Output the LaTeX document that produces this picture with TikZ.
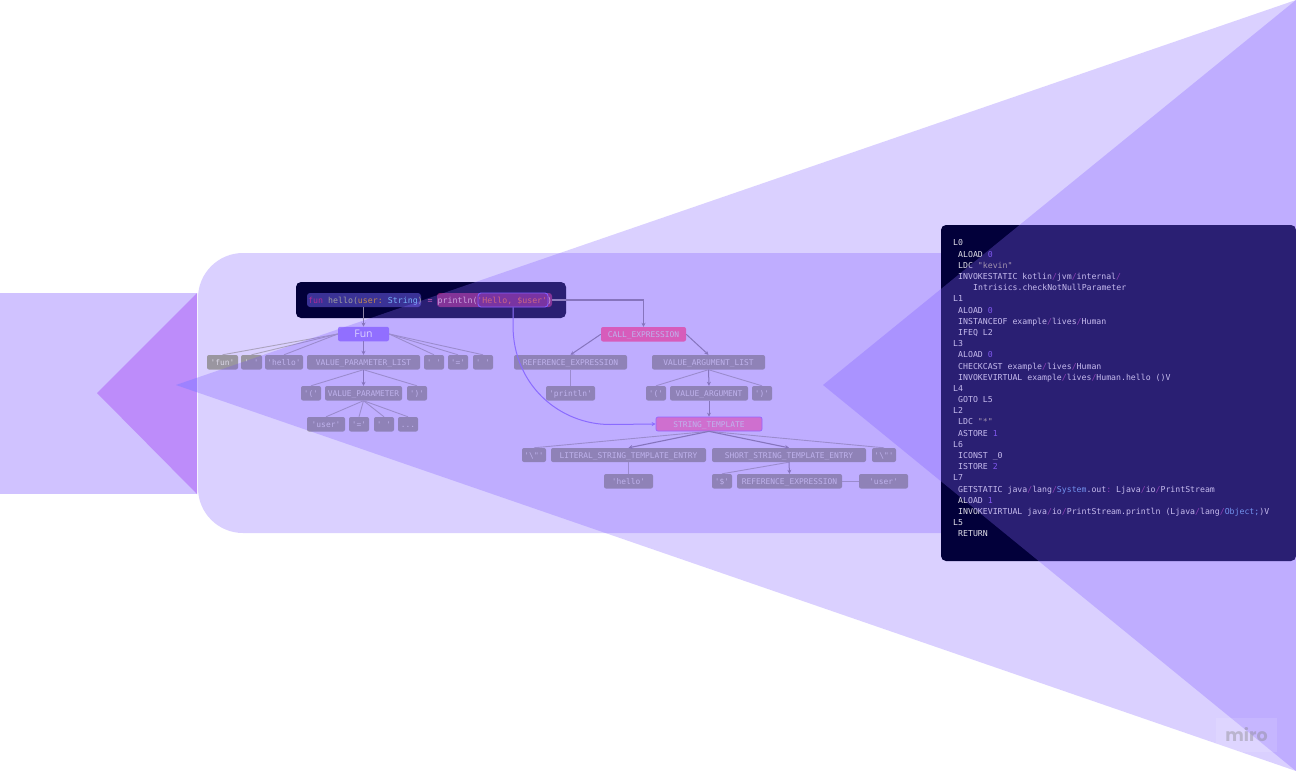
\documentclass[tikz,border=0pt]{standalone}
\usepackage{fontspec}
\newfontfamily\mono{DejaVu Sans Mono}
\newfontfamily\opens{Open Sans}
\newfontfamily\popp{Poppins}
\frenchspacing
\definecolor{violetA}{HTML}{6F47FF}
\definecolor{darkbox}{HTML}{02003A}
\definecolor{tokfill}{HTML}{9A96A0}
\definecolor{tokfg}{HTML}{DAD6E6}
\definecolor{linecol}{HTML}{8E84A8}
\definecolor{linelite}{HTML}{ABA3BE}
\definecolor{codefg}{HTML}{E0DEE8}
\definecolor{cslash}{HTML}{8C2C96}
\definecolor{cnum}{HTML}{7C50E8}
\definecolor{cstr}{HTML}{B0A890}
\definecolor{cblue}{HTML}{6AA4E8}
\definecolor{kwpink}{HTML}{B02C98}
\definecolor{kwgrey}{HTML}{A0A0A0}
\definecolor{kwbrown}{HTML}{C08850}
\definecolor{kwblue}{HTML}{78B0F8}
\definecolor{kwrose}{HTML}{E85CA8}
\definecolor{kwlight}{HTML}{E8C0D8}
\definecolor{kwred}{HTML}{E86450}
\newcommand\ks{\textcolor{cslash}{/}}
\newcommand\kn[1]{\textcolor{cnum}{#1}}
\newcommand\bs{\symbol{92}}
\usetikzlibrary{arrows.meta}
\tikzset{
  tok/.style={rounded corners=2pt,inner sep=0pt,text=tokfg,align=center,
    font=\mono\fontsize{7.9}{9}\selectfont,text height=7.4pt,text depth=1.1pt},
  link/.style={draw=linecol,line width=1pt},
  lite/.style={draw=linelite,line width=.9pt},
  tip/.style={-{Stealth[length=4pt,width=4pt]}},
  codel/.style={anchor=west,inner sep=0pt,text=codefg,
    font=\mono\fontsize{8.2}{10}\selectfont,text height=7.4pt,text depth=1.5pt},
  tri/.style={fill=violetA,fill opacity=.25,draw=none}
}
\newcommand\tk[7][]{\node[tok,fill=tokfill,#1,minimum width={(#4-#3)*1pt},minimum height={(#6-#5)*1pt}]
  (#2) at ({(#3+#4)/2},{(#5+#6)/2}) {#7};}
\begin{document}
\begin{tikzpicture}[x=1pt,y=-1pt]
\useasboundingbox (0,0) rectangle (1296,771);
\fill[white] (0,0) rectangle (1296,771);
% left block
\fill[fill={rgb,255:red,208;green,194;blue,255}] (0,293) rectangle (197,494);
\fill[fill={rgb,255:red,189;green,140;blue,250}] (97,393) -- (197,293) -- (197,494) -- cycle;
\fill[fill={rgb,255:red,174;green,151;blue,255}] (176,385) -- (197,377.8) -- (197,392.2) -- cycle;
% large rounded band
\fill[violetA,fill opacity=.25,rounded corners=45pt] (198,253) rectangle (1100,533);
% source box
\node[rounded corners=5pt,fill=darkbox,minimum width=270pt,minimum height=36pt,inner sep=0pt] (srcbox) at (431,300) {};
\node[rounded corners=3pt,fill={rgb,255:red,58;green,50;blue,150},minimum width=114pt,minimum height=14pt,inner sep=0pt] (hla) at (364,300) {};
\node[rounded corners=3pt,fill={rgb,255:red,130;green,30;blue,110},minimum width=115pt,minimum height=14pt,inner sep=0pt] (hlb) at (494.5,300) {};
\node[rounded corners=3pt,draw={rgb,255:red,125;green,85;blue,255},line width=.9pt,fill={rgb,255:red,115;green,30;blue,125},minimum width=70pt,minimum height=14pt,inner sep=0pt] (hlc) at (513,300) {};
\node[anchor=west,inner sep=0pt,font=\mono\fontsize{8.27}{10}\selectfont,text height=7.5pt,text depth=1.5pt] (src) at (308,300) {\textcolor{kwpink}{fun} \textcolor{kwgrey}{hello(}\textcolor{kwbrown}{user:} \textcolor{kwblue}{String}\textcolor{kwgrey}{)} \textcolor{kwrose}{=} \textcolor{kwlight}{println(}\textcolor{kwred}{'Hello, \$user'}\textcolor{kwlight}{)}};
% tree nodes
\node[rounded corners=2pt,fill={rgb,255:red,157;green,125;blue,255},minimum width=51pt,minimum height=14.5pt,inner sep=0pt,text=white,font=\opens\fontsize{10.5}{12}\selectfont] (fun) at (363.5,334) {Fun};
\tk{a1}{207}{238}{355}{369.5}{'fun'}
\tk{a2}{241}{262}{355}{369.5}{' '}
\tk{a3}{265}{303}{355}{369.5}{'hello'}
\tk{a4}{307}{420}{355}{369.5}{VALUE\_PARAMETER\_LIST}
\tk{a5}{424}{444}{355}{369.5}{' '}
\tk{a6}{448}{468}{355}{369.5}{'='}
\tk{a7}{473}{493}{355}{369.5}{' '}
\tk{b1}{301}{321}{386}{400.5}{'('}
\tk{b2}{325}{402}{386}{400.5}{VALUE\_PARAMETER}
\tk{b3}{407}{427}{386}{400.5}{')'}
\tk{c1}{307}{345}{417}{431.5}{'user'}
\tk{c2}{349}{369}{417}{431.5}{'='}
\tk{c3}{374}{394}{417}{431.5}{' '}
\tk{c4}{398}{418}{417}{431.5}{...}
\tk[fill={rgb,255:red,250;green,100;blue,165}]{call}{601}{686}{327}{341.5}{CALL\_EXPRESSION}
\tk{ref}{514}{627}{355}{369.5}{REFERENCE\_EXPRESSION}
\tk{val}{652}{765}{355}{369.5}{VALUE\_ARGUMENT\_LIST}
\tk{pr}{546}{595}{386}{400.5}{'println'}
\tk{d1}{646}{666}{386}{400.5}{'('}
\tk{d2}{670}{748}{386}{400.5}{VALUE\_ARGUMENT}
\tk{d3}{752}{772}{386}{400.5}{')'}
\tk[fill={rgb,255:red,240;green,125;blue,192},draw={rgb,255:red,165;green,110;blue,255},line width=.7pt]{st}{656}{762}{417}{431}{STRING\_TEMPLATE}
\tk{e1}{522}{546}{448}{462}{'\bs"'}
\tk{e2}{551}{706}{448}{462}{LITERAL\_STRING\_TEMPLATE\_ENTRY}
\tk{e3}{712}{866}{448}{462}{SHORT\_STRING\_TEMPLATE\_ENTRY}
\tk{e4}{872}{896}{448}{462}{'\bs"'}
\tk{f1}{604}{653}{474}{488.5}{'hello'}
\tk{f2}{712}{732}{474}{488.5}{'\$'}
\tk{f3}{737}{842}{474}{488.5}{REFERENCE\_EXPRESSION}
\tk{f4}{859}{908}{474}{488.5}{'user'}
% connectors
\draw[link,tip] (hla.south -| fun.north) -- (fun.north);
\foreach \t in {a1,a2,a3}{\draw[lite] (fun.west) -- (\t.north);}
\foreach \t in {a5,a6,a7}{\draw[lite] (fun.east) -- (\t.north);}
\draw[link,tip] (fun.south) -- (a4.north -| fun.south);
\draw[lite] (a4.south) -- (b1.north);
\draw[lite] (a4.south) -- (b3.north);
\draw[link,tip] (a4.south) -- (b2.north);
\foreach \t in {c1,c2,c3,c4}{\draw[lite] (b2.south) -- (\t.north);}
\draw[link,tip,line width=1.1pt] (hlb.east) -| (call.north);
\draw[link,tip] (call.west) -- (ref.north);
\draw[link,tip] (call.east) -- (val.north);
\draw[lite] (ref.south) -- (pr.north);
\draw[lite] (val.south) -- (d1.north);
\draw[lite] (val.south) -- (d3.north);
\draw[link,tip] (val.south) -- (d2.north);
\draw[link,tip] (d2.south) -- (st.north);
\draw[lite] (st.south) -- (e1.north);
\draw[lite] (st.south) -- (e4.north);
\draw[link,tip,line width=1.1pt] (st.south) -- (e2.north);
\draw[link,tip,line width=1.1pt] (st.south) -- (e3.north);
\draw[lite] (e2.south) -- (f1.north);
\draw[lite] (e3.south) -- (f2.north);
\draw[link,tip] (e3.south) -- (f3.north);
\draw[lite] (f3.east) -- (f4.west);
\draw[draw={rgb,255:red,148;green,120;blue,255},line width=1pt,tip] (hlc.south) -- ++(0,18) .. controls +(0,60) and (560,424.5) .. (610,424.5) -- (st.west);
% first big wedge
\fill[tri] (176,385) -- (1296,0) -- (1296,771) -- cycle;
\begin{scope}
\clip[rounded corners=5pt] (296,282) rectangle (566,318);
\fill[white,fill opacity=.06] (176,385) -- (1296,0) -- (1296,771) -- cycle;
\end{scope}
% bytecode box
\fill[darkbox,rounded corners=5pt] (941,225) rectangle (1296,561);
\node[codel] (l1) at (953,243) {L0};
\node[codel] (l2) at (958,254.2) {ALOAD \kn{0}};
\node[codel] (l3) at (958,265.4) {LDC \textcolor{cstr}{"kevin"}};
\node[codel] (l4) at (958,276.6) {INVOKESTATIC kotlin\ks jvm\ks internal\ks};
\node[codel] (l5) at (973,287.8) {Intrisics.checkNotNullParameter};
\node[codel] (l6) at (953,299) {L1};
\node[codel] (l7) at (958,310.1) {ALOAD \kn{0}};
\node[codel] (l8) at (958,321.3) {INSTANCEOF example\ks lives\ks Human};
\node[codel] (l9) at (958,332.5) {IFEQ L2};
\node[codel] (l10) at (953,343.7) {L3};
\node[codel] (l11) at (958,354.9) {ALOAD \kn{0}};
\node[codel] (l12) at (958,366.1) {CHECKCAST example\ks lives\ks Human};
\node[codel] (l13) at (958,377.3) {INVOKEVIRTUAL example\ks lives\ks Human.hello ()V};
\node[codel] (l14) at (953,388.5) {L4};
\node[codel] (l15) at (958,399.6) {GOTO L5};
\node[codel] (l16) at (953,410.8) {L2};
\node[codel] (l17) at (958,422) {LDC \textcolor{cstr}{"*"}};
\node[codel] (l18) at (958,433.2) {ASTORE \kn{1}};
\node[codel] (l19) at (953,444.4) {L6};
\node[codel] (l20) at (958,455.6) {ICONST \_0};
\node[codel] (l21) at (958,466.8) {ISTORE \kn{2}};
\node[codel] (l22) at (953,478) {L7};
\node[codel] (l23) at (958,489.1) {GETSTATIC java\ks lang\ks\textcolor{cblue}{System}.out\textcolor{cslash}{:} Ljava\ks io\ks PrintStream};
\node[codel] (l24) at (958,500.3) {ALOAD \kn{1}};
\node[codel] (l25) at (958,511.5) {INVOKEVIRTUAL java\ks io\ks PrintStream.println (Ljava\ks lang\ks\textcolor{cblue}{Object;})V};
\node[codel] (l26) at (953,522.7) {L5};
\node[codel] (l27) at (958,533.9) {RETURN};
% second wedge
\fill[tri] (823,385) -- (1296,0) -- (1296,771) -- cycle;
\begin{scope}
\clip[rounded corners=5pt] (941,225) rectangle (1296,561);
\fill[white,fill opacity=.06] (823,385) -- (1296,0) -- (1296,771) -- cycle;
\end{scope}
% watermark
\fill[white,fill opacity=.12] (1216,718) rectangle (1277,752);
\node[inner sep=0pt,text=gray,text opacity=.38,font=\popp\bfseries\fontsize{17.5}{20}\selectfont] (miro) at (1246.5,735) {miro};
\end{tikzpicture}
\end{document}
